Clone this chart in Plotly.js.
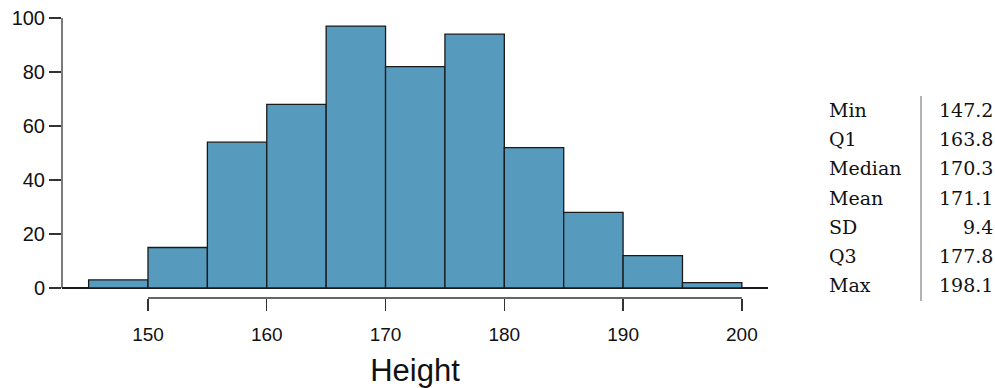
<!DOCTYPE html>
<html>
<head>
<meta charset="utf-8">
<script src="https://cdn.plot.ly/plotly-3.0.1.min.js"></script>
<style>body{margin:0;padding:0;background:#fff;} #chart{width:995px;height:388px;}</style>
</head>
<body>
<div id="chart"></div>
<script>
// Histogram bins (left edges, width 5) and counts
var binStarts = [145, 150, 155, 160, 165, 170, 175, 180, 185, 190, 195];
var binWidth = 5;
var counts = [3, 15, 54, 68, 97, 82, 94, 52, 28, 12, 2];
var xTicks = [150, 160, 170, 180, 190, 200];
var yTicks = [0, 20, 40, 60, 80, 100];
var statLabels = ["Min", "Q1", "Median", "Mean", "SD", "Q3", "Max"];
var statValues = ["147.2", "163.8", "170.3", "171.1", "9.4", "177.8", "198.1"];

// layout geometry (pixels)
var W = 995, H = 388;
var L = 62, R = 768, T = 18, B = 298;
var pw = R - L, ph = B - T;
function px2x(px){ return (px - L) / pw; }
function py2y(py){ return (B - py) / ph; }

var centers = binStarts.map(function(s){ return s + binWidth/2; });

var trace = {
  type: 'bar',
  x: centers,
  y: counts,
  width: binWidth,
  marker: {color: '#569BBD', line: {color: '#1a1a1a', width: 1.3}},
  hoverinfo: 'x+y'
};

var shapes = [
  {type:'line', xref:'paper', yref:'y', x0:0, x1:0, y0:0, y1:100, line:{color:'#333', width:1.3}},
  {type:'line', xref:'x', yref:'paper', x0:xTicks[0], x1:xTicks[xTicks.length-1], y0:0, y1:0, line:{color:'#333', width:1.3}},
  {type:'line', xref:'paper', yref:'paper', x0:px2x(921), x1:px2x(921), y0:py2y(96), y1:py2y(301), line:{color:'#666', width:1}}
];

var serif = 'DejaVu Serif, Liberation Serif, serif';
var annotations = [];
var rowY0 = 110, rowStep = 29.2;
statLabels.forEach(function(lab, i){
  var yy = py2y(rowY0 + i*rowStep);
  annotations.push({xref:'paper', yref:'paper', x:px2x(827), y:yy, xanchor:'left', yanchor:'middle',
    text:lab, showarrow:false, font:{family:serif, size:19, color:'#111'}});
  annotations.push({xref:'paper', yref:'paper', x:px2x(995), y:yy, xanchor:'right', yanchor:'middle',
    text:statValues[i], showarrow:false, font:{family:serif, size:19, color:'#111'}});
});

var layout = {
  width: W, height: H,
  margin: {l: L, r: W - R, t: T, b: H - B, pad: 0},
  paper_bgcolor: '#fff', plot_bgcolor: '#fff',
  showlegend: false,
  bargap: 0,
  font: {family: 'Liberation Sans, Arial, sans-serif', color: '#111'},
  xaxis: {
    range: [142.76, 202.2], autorange: false,
    tickvals: xTicks, ticktext: xTicks.map(String),
    ticks: 'outside', ticklen: 12, tickwidth: 1.3, tickcolor: '#333',
    ticklabelstandoff: 7,
    showline: false, showgrid: false, zeroline: false,
    tickfont: {family: 'Liberation Sans Narrow, Liberation Sans, Arial, sans-serif', size: 19, color: '#111'},
    title: {text: 'Height', font: {size: 31, color: '#111'}, standoff: 18},
    automargin: false, fixedrange: true
  },
  yaxis: {
    range: [-10/2.7, 100], autorange: false,
    tickvals: yTicks, ticktext: yTicks.map(String),
    ticks: 'outside', ticklen: 12, tickwidth: 1.3, tickcolor: '#333',
    showline: false, showgrid: false,
    zeroline: true, zerolinecolor: '#1a1a1a', zerolinewidth: 1.3,
    tickfont: {size: 20, color: '#111'},
    automargin: false, fixedrange: true
  },
  shapes: shapes,
  annotations: annotations
};

Plotly.newPlot('chart', [trace], layout, {displayModeBar: false, staticPlot: true});
</script>
</body>
</html>
